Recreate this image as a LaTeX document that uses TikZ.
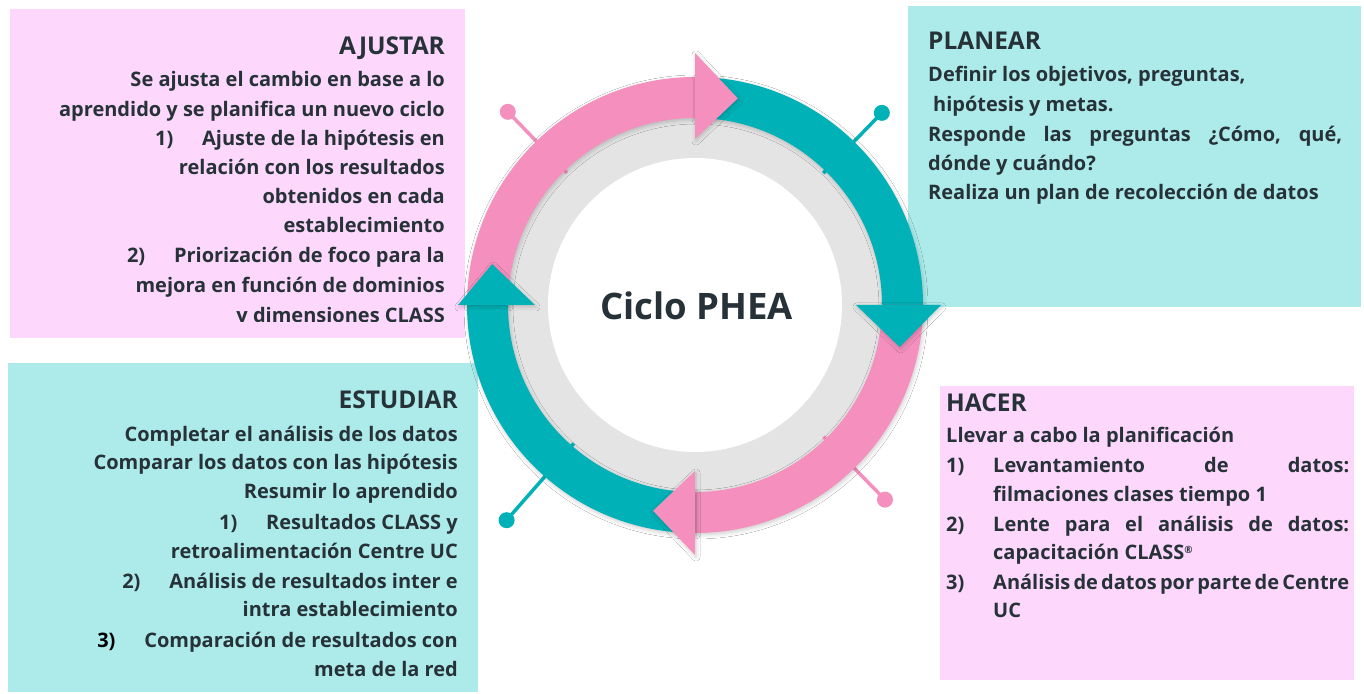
\documentclass[tikz,border=0pt]{standalone}
\usepackage{fontspec}
\setmainfont{Open Sans}
\usetikzlibrary{shadows.blur}
\definecolor{pinkbox}{HTML}{FDD7FC}
\definecolor{tealbox}{HTML}{ADEBEA}
\definecolor{pinkarr}{HTML}{F590BE}
\definecolor{tealarr}{HTML}{00B2B8}
\definecolor{ringgray}{HTML}{E4E4E4}
\definecolor{txt}{HTML}{263238}
\newcommand\numbox[1]{\makebox[47pt][l]{#1}}
\newcommand\bandarc[3]{\fill[#1, arrshadow] (#2:228) arc[start angle=#2, end angle=#3, radius=228] -- (#3:187) arc[start angle=#3, end angle=#2, radius=187] -- cycle;}
% colour, base angle, inner r, outer r, tip angle, tip r
\newcommand\headtri[6]{\fill[#1, arrshadow] (#2:#3) -- (#2:#4) -- (#5:#6) -- cycle;}
\begin{document}
\begin{tikzpicture}[x=1pt,y=1pt,
  body/.style={font=\fontsize{20}{22}\selectfont\bfseries, text=txt, inner sep=0pt},
  ttl/.style={font=\fontsize{24.5}{28}\selectfont\bfseries, text=txt, inner sep=0pt},
  arrshadow/.style={blur shadow={shadow xshift=1pt, shadow yshift=-2pt, shadow blur radius=4pt, shadow opacity=20}},
  pindot/.style={circle, inner sep=0pt, minimum size=16pt},
  pinline/.style={line width=3.5pt}]
\useasboundingbox (0,0) rectangle (1364,693);
\fill[white] (0,0) rectangle (1364,693);
% boxes
\fill[pinkbox] (10,355) rectangle (465,684);
\fill[tealbox] (908,386) rectangle (1361,687);
\fill[tealbox] (8,1) rectangle (478,330);
\fill[pinkbox] (940,13) rectangle (1354,307);
% ring
\begin{scope}[shift={(695,388)}]
  \fill[ringgray] (0,0) circle (192);
  \fill[white] (0,0) circle (147);
  % pins
  \node[pindot, fill=pinkarr] (p1) at (134.1:269) {};
  \coordinate (p1e) at (134.1:184);
  \draw[pinline, pinkarr] (p1.center) -- (p1e);
  \node[pindot, fill=tealarr] (p2) at (45.8:268) {};
  \coordinate (p2e) at (45.8:184);
  \draw[pinline, tealarr] (p2.center) -- (p2e);
  \node[pindot, fill=pinkarr] (p3) at (-45.7:272) {};
  \coordinate (p3e) at (-45.7:184);
  \draw[pinline, pinkarr] (p3.center) -- (p3e);
  \node[pindot, fill=tealarr] (p4) at (-131.2:286) {};
  \coordinate (p4e) at (-131.2:184);
  \draw[pinline, tealarr] (p4.center) -- (p4e);
  % arrow bands
  \bandarc{pinkarr}{180}{90}
  \bandarc{tealarr}{90}{0}
  \bandarc{pinkarr}{0}{-90}
  \bandarc{tealarr}{-90}{-180}
  % heads
  \headtri{pinkarr}{90}{166}{252}{78.3}{211}
  \headtri{tealarr}{0}{161}{246}{-11.6}{209}
  \headtri{pinkarr}{-90}{166}{250}{-101.5}{210}
  \headtri{tealarr}{180}{160}{237}{168.6}{207}
  \node[font=\fontsize{36.5}{40}\selectfont\bfseries, text=txt, inner sep=0pt, anchor=base] (center) at (1.5,-15) {Ciclo PHEA};
\end{scope}
% AJUSTAR
\node[ttl, anchor=base east] (ajt) at (445,638) {AJUSTAR};
\node[body, anchor=base east] (aj1) at (445,606) {Se ajusta el cambio en base a lo};
\node[body, anchor=base east] (aj2) at (445,576) {aprendido y se planifica un nuevo ciclo};
\node[body, anchor=base east] (aj3) at (445,547) {\numbox{1)}Ajuste de la hipótesis en};
\node[body, anchor=base east] (aj4) at (445,518) {relación con los resultados};
\node[body, anchor=base east] (aj5) at (445,489) {obtenidos en cada};
\node[body, anchor=base east] (aj6) at (445,460) {establecimiento};
\node[body, anchor=base east] (aj7) at (445,430) {\numbox{2)}Priorización de foco para la};
\node[body, anchor=base east] (aj8) at (445,400) {mejora en función de dominios};
\begin{scope}
  \clip (10,371.5) rectangle (465,400);
  \node[body, anchor=base east] (aj9) at (445,370) {y dimensiones CLASS};
\end{scope}
% PLANEAR
\node[ttl, anchor=base west] (plt) at (928,643) {PLANEAR};
\node[body, anchor=base west] (pl1) at (928,611) {Definir los objetivos, preguntas,};
\node[body, anchor=base west] (pl2) at (933,581) {hipótesis y metas.};
\node[body, anchor=base west] (pl3) at (928,551) {\hbox to 414pt{Responde\hfill las\hfill preguntas\hfill ¿Cómo,\hfill qué,}};
\node[body, anchor=base west] (pl4) at (928,522) {dónde y cuándo?};
\node[body, anchor=base west] (pl5) at (928,493) {Realiza un plan de recolección de datos};
% ESTUDIAR
\node[ttl, anchor=base east] (est) at (458,284) {ESTUDIAR};
\node[body, anchor=base east] (es1) at (458,251) {Completar el análisis de los datos};
\node[body, anchor=base east] (es2) at (458,223) {Comparar los datos con las hipótesis};
\node[body, anchor=base east] (es3) at (458,194) {Resumir lo aprendido};
\node[body, anchor=base east] (es4) at (458,163) {\numbox{1)}Resultados CLASS y};
\node[body, anchor=base east] (es5) at (458,134) {retroalimentación Centre UC};
\node[body, anchor=base east] (es6) at (458,104) {\numbox{2)}Análisis de resultados inter e};
\node[body, anchor=base east] (es7) at (458,76) {intra establecimiento};
\node[body, anchor=base east] (es8) at (458,46) {\numbox{\textcolor{black}{3)}}Comparación de resultados con};
\node[body, anchor=base east] (es9) at (458,17) {meta de la red};
% HACER
\node[ttl, anchor=base west] (hat) at (946,281) {HACER};
\node[body, anchor=base west] (ha1) at (946,250) {Llevar a cabo la planificación};
\node[body, anchor=base west] (ha2) at (946,220) {\numbox{1)}\hbox to 356pt{Levantamiento\hfill de\hfill datos:}};
\node[body, anchor=base west] (ha3) at (993,191) {filmaciones clases tiempo 1};
\node[body, anchor=base west] (ha4) at (946,161) {\numbox{2)}\hbox to 356pt{Lente\hfill para\hfill el\hfill análisis\hfill de\hfill datos:}};
\node[body, anchor=base west] (ha5) at (993,133) {capacitación CLASS\raisebox{6pt}{\fontsize{10}{10}\selectfont ®}};
\node[body, anchor=base west] (ha6) at (946,103) {\numbox{3)}\hbox to 356pt{Análisis\hfill de\hfill datos\hfill por\hfill parte\hfill de\hfill Centre}};
\node[body, anchor=base west] (ha7) at (993,75) {UC};
\end{tikzpicture}
\end{document}
